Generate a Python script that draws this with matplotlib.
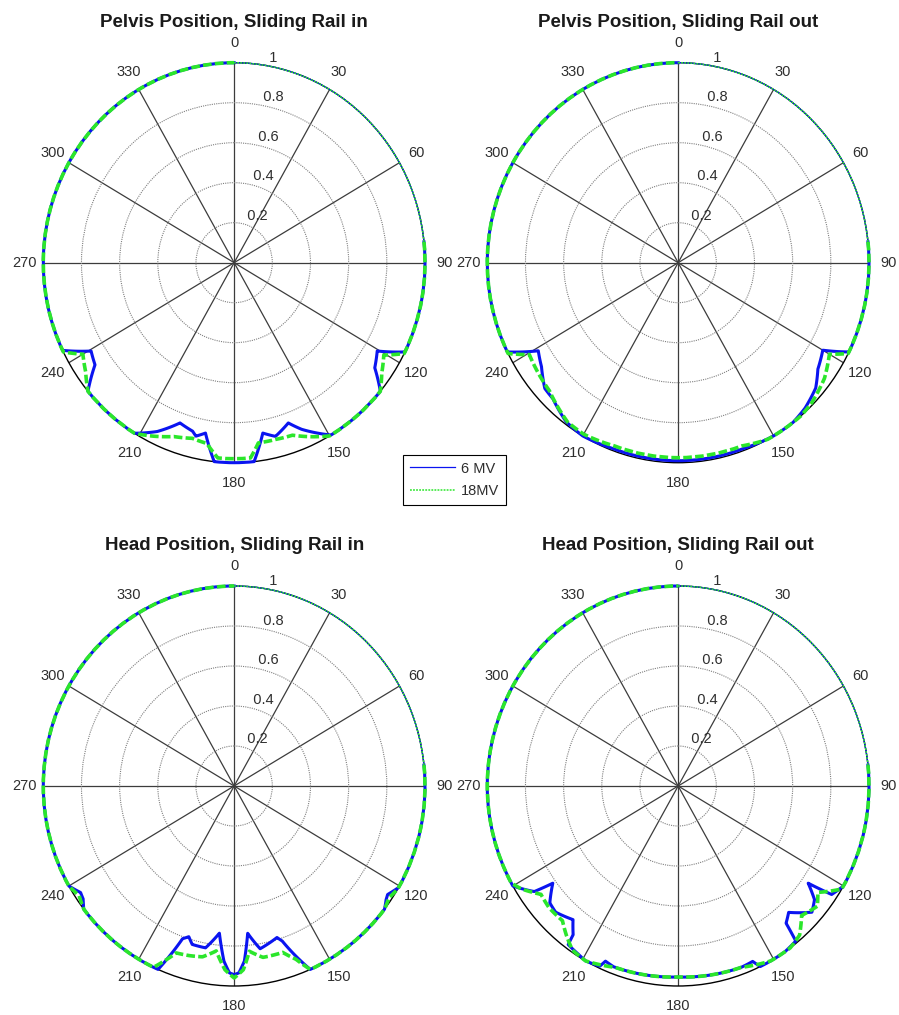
import numpy as np
import matplotlib
matplotlib.use('Agg')
import matplotlib.pyplot as plt

plt.rcParams['font.family'] = ['Liberation Sans', 'DejaVu Sans']

# ---- data: gantry angle (deg) and relative dose ----
# Pelvis position, sliding rail in
pelvis_in_6mv_theta = [0, 116.5, 120.5, 125.5, 130, 149.5, 157, 160.5, 166, 170, 174, 186, 190, 193,
                       194.5, 199.5, 205.5, 211.5, 230, 235, 239.5, 244, 360]
pelvis_in_6mv_r = [1, 1, 0.87, 0.905, 1, 1, 0.905, 0.85, 0.895, 0.865, 1, 1, 0.865, 0.89,
                   0.87, 0.85, 0.935, 1, 1, 0.89, 0.87, 1, 1]
pelvis_in_18mv_theta = [0, 117, 120.5, 125.5, 130, 150, 155, 160.5, 166, 172, 175, 185, 189, 194,
                        200, 206, 211.5, 230, 235, 240, 243.5, 360]
pelvis_in_18mv_r = [1, 1, 0.91, 0.95, 1, 1, 0.96, 0.915, 0.91, 0.91, 0.98, 0.98, 0.915, 0.905,
                    0.925, 0.965, 1, 1, 0.95, 0.915, 1, 1]

# Pelvis position, sliding rail out
pelvis_out_6mv_theta = [0, 116.5, 120, 126, 131, 137.5, 143, 150, 160, 200, 210, 216.5, 224, 228,
                        234, 239, 243.5, 360]
pelvis_out_6mv_r = [1, 1, 0.875, 0.905, 0.955, 0.985, 1, 1, 0.99, 0.99, 1, 0.988, 0.945, 0.94,
                    0.885, 0.855, 1, 1]
pelvis_out_18mv_theta = [0, 117, 120, 127, 135, 140, 152, 160, 200, 210, 216, 226.5, 239.5, 243, 360]
pelvis_out_18mv_r = [1, 1, 0.915, 0.96, 0.99, 1, 1, 0.975, 0.975, 0.99, 0.985, 0.93, 0.905, 1, 1]

# Head position, sliding rail in
head_in_6mv_theta = [0, 120.5, 124, 125.5, 128, 156.5, 162, 163.5, 170.5, 174.5, 176.5, 178.5, 180,
                     181.5, 183.5, 186, 190.5, 195.5, 197.5, 199.5, 203.5, 232, 234.5, 236.5, 240, 360]
head_in_6mv_r = [1, 1, 0.97, 0.978, 1, 1, 0.815, 0.79, 0.825, 0.74, 0.877, 0.935, 0.943,
                 0.935, 0.877, 0.74, 0.823, 0.822, 0.79, 0.81, 1, 1, 0.972, 0.965, 1, 1]
head_in_18mv_theta = [0, 121, 124.5, 128, 156.5, 159.5, 163, 170, 174.5, 177, 180, 183, 186.5, 191,
                      195.5, 200, 205, 232, 236, 240, 360]
head_in_18mv_r = [1, 1, 0.985, 1, 1, 0.925, 0.87, 0.87, 0.83, 0.92, 0.96, 0.92, 0.83, 0.87,
                  0.88, 0.888, 1, 1, 0.98, 1, 1]

# Head position, sliding rail out
head_out_6mv_theta = [0, 120, 124, 125.5, 128.5, 132, 137.5, 140.5, 141.5, 146, 154.5, 156, 160, 180,
                      200.5, 203.5, 204.5, 209, 212, 216, 216.5, 219.5, 225.5, 229, 233.5, 235, 240, 360]
head_out_6mv_r = [1, 1, 0.97, 0.837, 0.913, 0.943, 0.857, 0.889, 0.99, 1, 1, 0.96, 0.965, 0.955,
                  0.965, 0.955, 0.99, 1, 0.99, 0.98, 0.925, 0.866, 0.9, 0.891, 0.817, 0.92, 1, 1]
head_out_18mv_theta = [0, 121, 126, 129.5, 135, 139.5, 144, 151, 160, 180, 200, 209, 214, 218, 222,
                       228, 233, 238, 241, 360]
head_out_18mv_r = [1, 1, 0.905, 0.945, 0.915, 0.98, 1, 1, 0.965, 0.955, 0.965, 1, 0.99, 0.95, 0.906,
                   0.91, 0.9, 0.97, 1, 1]

titles = ['Pelvis Position, Sliding Rail in', 'Pelvis Position, Sliding Rail out',
          'Head Position, Sliding Rail in', 'Head Position, Sliding Rail out']
series_labels = ['6 MV', '18MV']
angle_ticks = list(range(0, 360, 30))
ring_ticks = [0.2, 0.4, 0.6, 0.8, 1.0]

# ---- style ----
W, H = 899, 1015
BLUE = '#0a14f0'
GREEN = '#2be62b'
THICK_START = 84     # curves are drawn thin from 0 up to here
TXT = '#2e2e2e'


def split(th, r, cut):
    th = np.asarray(th, float)
    r = np.asarray(r, float)
    rc = np.interp(cut, th, r)
    lo, hi = th < cut, th > cut
    return (np.r_[th[lo], cut], np.r_[r[lo], rc]), (np.r_[cut, th[hi]], np.r_[rc, r[hi]])


def arcs(line):
    # let constant-radius stretches follow the circle
    line.get_path()._interpolation_steps = 60
    line._transformed_path = None
    return line


def panel(ax, title, th6, r6, th18, r18):
    ax.set_theta_zero_location('N')
    ax.set_theta_direction(-1)
    ax.set_aspect('auto')
    ax.set_ylim(0, 1)
    ax.set_xticks(np.deg2rad(angle_ticks))
    ax.set_xticklabels([])
    ax.set_yticks(ring_ticks[:-1])
    ax.set_yticklabels([])
    ax.tick_params(length=0)
    ax.xaxis.grid(True, color='#3c3c3c', lw=0.9, ls='-')
    ax.yaxis.grid(True, color='#808080', lw=0.8, ls=(0, (1, 1)))
    ax.spines['polar'].set_color('black')
    ax.spines['polar'].set_linewidth(1.0)

    for a in angle_ticks:
        ax.text(np.deg2rad(a), 1.1, str(a), ha='center', va='center', fontsize=10.5, color=TXT)
    for rv in ring_ticks:
        ax.text(np.deg2rad(8), rv, '  %g' % rv, ha='left', va='bottom', fontsize=10.5, color=TXT)
    ax.text(0.5, 1.09, title, transform=ax.transAxes, ha='center', va='baseline',
            fontsize=13.5, fontweight='bold', color='#1a1a1a')

    (t6a, q6a), (t6b, q6b) = split(th6, r6, THICK_START)
    (t18a, q18a), (t18b, q18b) = split(th18, r18, THICK_START)
    l6, = ax.plot(np.deg2rad(t6a), q6a, color=BLUE, lw=0.9, clip_on=False, zorder=3)
    l18, = ax.plot(np.deg2rad(t18a), q18a, color=GREEN, lw=1.1, ls=(0, (1.2, 0.8)),
                   clip_on=False, zorder=4)
    arcs(l6)
    arcs(l18)
    arcs(ax.plot(np.deg2rad(t6b), q6b, color=BLUE, lw=2.2, clip_on=False, zorder=3)[0])
    arcs(ax.plot(np.deg2rad(t18b), q18b, color=GREEN, lw=2.6, ls=(0, (2.4, 0.9)),
                 clip_on=False, zorder=4)[0])
    return l6, l18


fig = plt.figure(figsize=(W / 100, H / 100), dpi=100)

# axes boxes in pixels: left, top (width and height shared)
boxes = [(43.3, 62.7), (487.3, 62.7), (43.3, 586.0), (487.3, 586.0)]
bw, bh = 381.7, 400.0
data = [(pelvis_in_6mv_theta, pelvis_in_6mv_r, pelvis_in_18mv_theta, pelvis_in_18mv_r),
        (pelvis_out_6mv_theta, pelvis_out_6mv_r, pelvis_out_18mv_theta, pelvis_out_18mv_r),
        (head_in_6mv_theta, head_in_6mv_r, head_in_18mv_theta, head_in_18mv_r),
        (head_out_6mv_theta, head_out_6mv_r, head_out_18mv_theta, head_out_18mv_r)]

handles = None
for (x0, y0), title, d in zip(boxes, titles, data):
    ax = fig.add_axes([x0 / W, 1 - (y0 + bh) / H, bw / W, bh / H], projection='polar')
    h = panel(ax, title, *d)
    if handles is None:
        handles = h

leg = fig.legend(handles, series_labels, loc='upper left', bbox_to_anchor=(403.3 / W, 1 - 455 / H),
                 fontsize=10.5, frameon=True, fancybox=False, edgecolor='black', framealpha=1,
                 handlelength=3.1, handletextpad=0.4, labelspacing=0.58, borderpad=0.45,
                 borderaxespad=0)
leg.get_frame().set_linewidth(0.8)
for t in leg.get_texts():
    t.set_color(TXT)

fig.savefig('out.png', dpi=100)
